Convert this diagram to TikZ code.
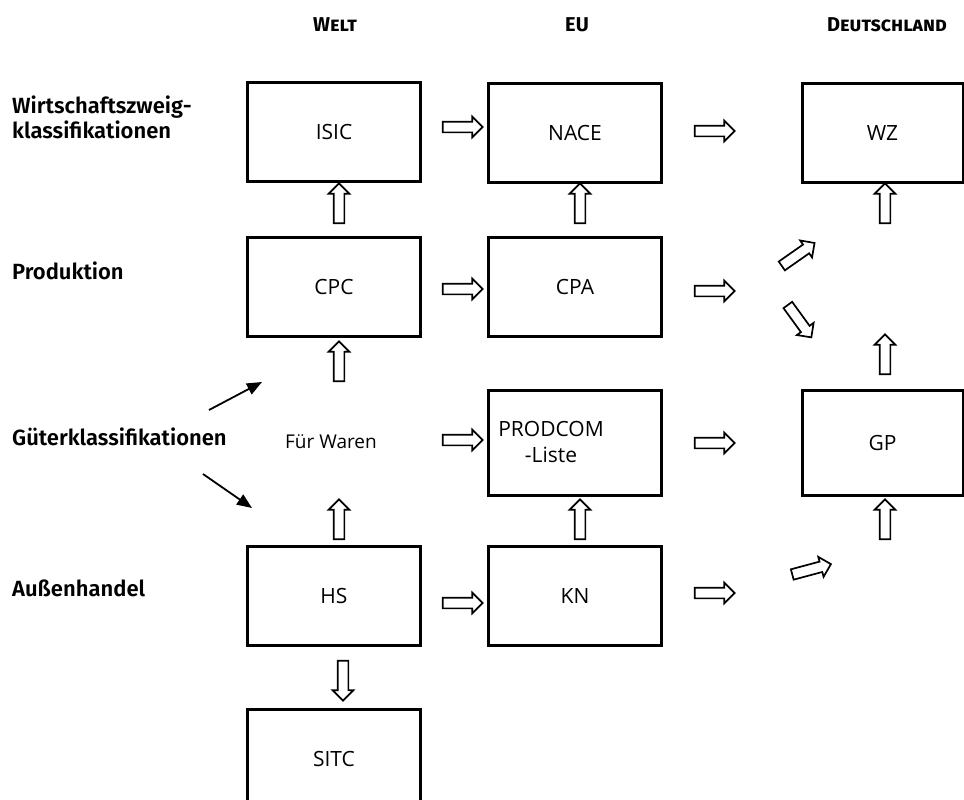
\documentclass[tikz,border=0pt]{standalone}
\usepackage{fontspec}
\setmainfont{Fira Sans}
\newfontfamily\boxfont{Open Sans}
\newfontfamily\labfont{Fira Sans SemiBold}
\usetikzlibrary{shapes.arrows,arrows.meta}
\begin{document}
\begin{tikzpicture}[x=1pt,y=-1pt,
  box/.style={draw, line width=3pt, minimum width=173pt, minimum height=99pt, inner sep=0pt,
    font=\boxfont\fontsize{21}{26}\selectfont, align=center},
  dbox/.style={box, minimum width=161pt},
  tallbox/.style={minimum height=105pt},
  boxtext/.style={font=\boxfont\fontsize{21}{26}\selectfont, align=center, inner sep=0pt},
  hollow/.style={single arrow, draw, line width=1.7pt, minimum height=40pt, minimum width=19pt,
    inner sep=4.5pt, single arrow head extend=5pt, single arrow tip angle=90},
  lab/.style={font=\labfont\fontsize{22}{25}\selectfont, anchor=west, align=left, inner sep=0pt},
  head/.style={font=\bfseries\fontsize{20}{24}\selectfont, inner sep=0pt},
  pointer/.style={line width=1.8pt, -{Triangle[length=15pt,width=12pt]}},
]
\useasboundingbox (0,0) rectangle (964,800);
% headers
\node[head] (hW) at (335,25) {\textsc{Welt}};
\node[head] (hE) at (577,25) {EU};
\node[head] (hD) at (887,25) {\textsc{Deutschland}};
% row labels
\node[lab] (lW) at (12,117) {Wirtschaftszweig-\\klassifikationen};
\node[lab] (lP) at (12,271) {Produktion};
\node[lab] (lG) at (12,437) {Güterklassifikationen};
\node[lab] (lA) at (12,588) {Außenhandel};
% boxes
\node[box] (isic) at (334,132) {ISIC};
\node[box] (nace) at (575,133) {NACE};
\node[dbox] (wz) at (882.5,133) {WZ};
\node[box] (cpc) at (334,287) {CPC};
\node[box] (cpa) at (575,287) {CPA};
\node[box, tallbox] (prod) at (575,442.5) {};
\node[boxtext] (prodtxt) at (551,442) {PRODCOM\\-Liste};
\node[dbox, tallbox] (gp) at (882.5,442.5) {GP};
\node[box] (hs) at (334,596) {HS};
\node[box] (kn) at (575,596) {KN};
\node[box] (sitc) at (334,759) {SITC};
\node[font=\boxfont\fontsize{19}{23}\selectfont] (waren) at (331,442) {Für Waren};
% horizontal hollow arrows
\node[hollow] (a1) at (460,127) {};
\node[hollow] (a2) at (712,131) {};
\node[hollow] (a3) at (460,289) {};
\node[hollow] (a4) at (712,291) {};
\node[hollow] (a5) at (460,440) {};
\node[hollow] (a6) at (712,443) {};
\node[hollow] (a7) at (460,603) {};
\node[hollow] (a8) at (712,593) {};
% vertical hollow arrows
\node[hollow, rotate=90] (v1) at (339,206) {};
\node[hollow, rotate=90] (v2) at (339,364) {};
\node[hollow, rotate=90] (v3) at (339,522) {};
\node[hollow, rotate=-90] (v4) at (343,678) {};
\node[hollow, rotate=90] (v5) at (580,206) {};
\node[hollow, rotate=90] (v6) at (580,522) {};
\node[hollow, rotate=90] (v7) at (885,206) {};
\node[hollow, rotate=90] (v8) at (885,357) {};
\node[hollow, rotate=90] (v9) at (885,522) {};
% diagonal hollow arrows
\node[hollow, rotate=35] (d1) at (796,256) {};
\node[hollow, rotate=-54] (d2) at (798,319) {};
\node[hollow, rotate=15] (d3) at (809,570) {};
% pointers from label
\coordinate (su) at (209,410);
\coordinate (pu) at (262,382);
\coordinate (sd) at (203,474);
\coordinate (pd) at (252,508);
\draw[pointer] (su) -- (pu);
\draw[pointer] (sd) -- (pd);
\end{tikzpicture}
\end{document}
